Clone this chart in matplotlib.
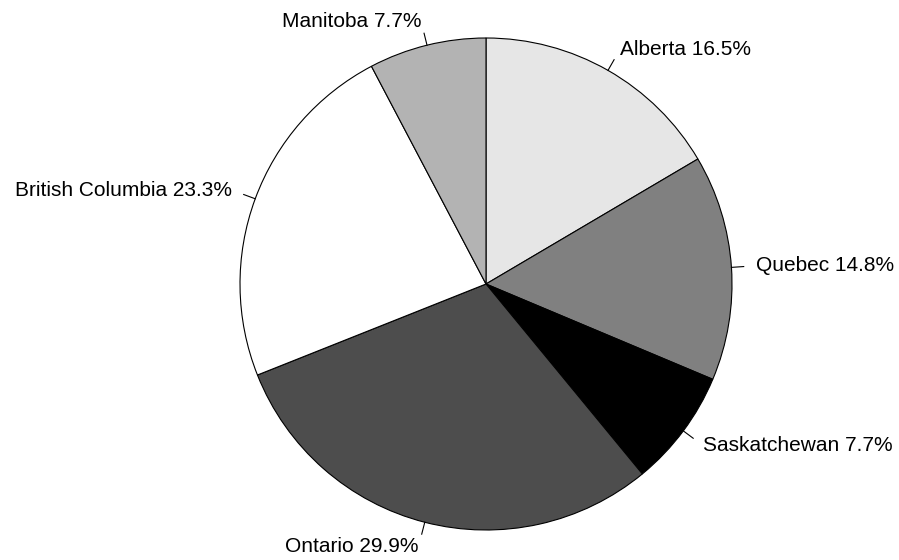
import numpy as np
import matplotlib
matplotlib.use("Agg")
import matplotlib.pyplot as plt

provinces = ["Alberta", "Quebec", "Saskatchewan", "Ontario", "British Columbia", "Manitoba"]
shares = [16.5, 14.8, 7.7, 29.9, 23.3, 7.7]
colors = ["#e6e6e6", "#808080", "#000000", "#4d4d4d", "#ffffff", "#b3b3b3"]

W, H = 899, 560
cx, cy, R = 486, 284, 246

fig = plt.figure(figsize=(W / 100, H / 100), dpi=100)
ax = fig.add_axes([0, 0, 1, 1])
ax.set_xlim(-cx / R, (W - cx) / R)
ax.set_ylim(-(H - cy) / R, cy / R)
ax.axis("off")

wedges, _ = ax.pie(shares, colors=colors, startangle=90, counterclock=False,
                   radius=1.0, center=(0, 0), frame=True,
                   wedgeprops=dict(edgecolor="black", linewidth=0.8))
ax.set_xlim(-cx / R, (W - cx) / R)
ax.set_ylim(-(H - cy) / R, cy / R)
ax.set_aspect("auto")
ax.axis("off")

total = sum(shares)
cum = 0.0
for name, v in zip(provinces, shares):
    mid = (cum + v / 2) / total
    cum += v
    theta = np.pi / 2 - 2 * np.pi * mid
    dx, dy = np.cos(theta), np.sin(theta)
    ax.plot([dx, 1.05 * dx], [dy, 1.05 * dy], color="black", lw=0.8)
    ha = "right" if dx < 0 else "left"
    ax.text(1.1 * dx, 1.1 * dy, f"{name} {v:.1f}%", ha=ha, va="center",
            fontsize=15, family="Liberation Sans")

fig.savefig("out.png", dpi=100)
